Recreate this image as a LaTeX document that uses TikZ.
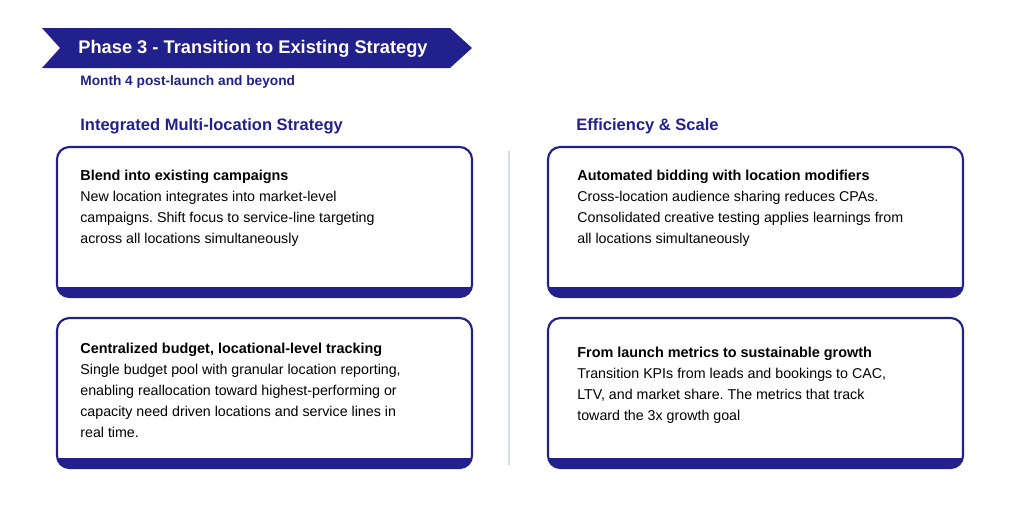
\documentclass[tikz,border=0pt]{standalone}
\usepackage{fontspec}
\setmainfont{Liberation Sans}
\usetikzlibrary{positioning}
\definecolor{navy}{HTML}{22208C}
\definecolor{divgrey}{HTML}{D5DAEA}
\frenchspacing
\begin{document}
\begin{tikzpicture}[x=0.02cm,y=-0.02cm,
    banner/.style={fill=navy},
    cardframe/.style={draw=navy,line width=1.2pt,rounded corners=7pt},
    cardtitle/.style={anchor=west,inner sep=0pt,font=\fontsize{8.2}{9}\selectfont\bfseries},
    cardbody/.style={inner sep=0pt,align=left,
        font=\fontsize{8.1}{11.9}\selectfont},
    heading/.style={anchor=west,inner sep=0pt,text=navy,font=\fontsize{9.4}{10}\selectfont\bfseries}
    ]
    \useasboundingbox (0,0) rectangle (1024,505);

    % banner
    \fill[banner] (42,28) -- (450,28) -- (472,48) -- (450,68) -- (42,68) -- (60,48) -- cycle;
    \node[anchor=west,inner sep=0pt,text=white,font=\fontsize{10.4}{11}\selectfont\bfseries]
        (phase) at (78,49) {Phase 3 - Transition to Existing Strategy};
    \node[anchor=west,inner sep=0pt,text=navy,font=\fontsize{7.8}{9}\selectfont\bfseries]
        (month) at (80,82) {Month 4 post-launch and beyond};

    \node[heading] (hleft) at (80,126) {Integrated Multi-location Strategy};
    \node[heading] (hright) at (576,126) {Efficiency \& Scale};

    % divider
    \draw[divgrey,line width=1.6pt] (509,151) -- (509,465);

    % cards
    \foreach \x/\y in {57/147,57/318,548/147,548/318}{
        \begin{scope}
            \clip[rounded corners=7pt] (\x,\y) rectangle (\x+415,\y+150);
            \fill[navy] (\x,\y+140) rectangle (\x+415,\y+150);
        \end{scope}
        \draw[cardframe] (\x,\y) rectangle (\x+415,\y+150);
    }

    \node[cardtitle] (t1) at (80,177) {Blend into existing campaigns};
    \node[cardbody,below=4pt of t1.south west,anchor=north west] (b1) {New location integrates into market-level\\
        campaigns. Shift focus to service-line targeting\\across all locations simultaneously};

    \node[cardtitle] (t2) at (80,350) {Centralized budget, locational-level tracking};
    \node[cardbody,below=4pt of t2.south west,anchor=north west] (b2) {Single budget pool with granular location reporting,\\
        enabling reallocation toward highest-performing or\\capacity need driven locations and service lines in\\real time.};

    \node[cardtitle] (t3) at (577,177) {Automated bidding with location modifiers};
    \node[cardbody,below=4pt of t3.south west,anchor=north west] (b3) {Cross-location audience sharing reduces CPAs.\\
        Consolidated creative testing applies learnings from\\all locations simultaneously};

    \node[cardtitle] (t4) at (577,354) {From launch metrics to sustainable growth};
    \node[cardbody,below=4pt of t4.south west,anchor=north west] (b4) {Transition KPIs from leads and bookings to CAC,\\
        LTV, and market share. The metrics that track\\toward the 3x growth goal};
\end{tikzpicture}
\end{document}
